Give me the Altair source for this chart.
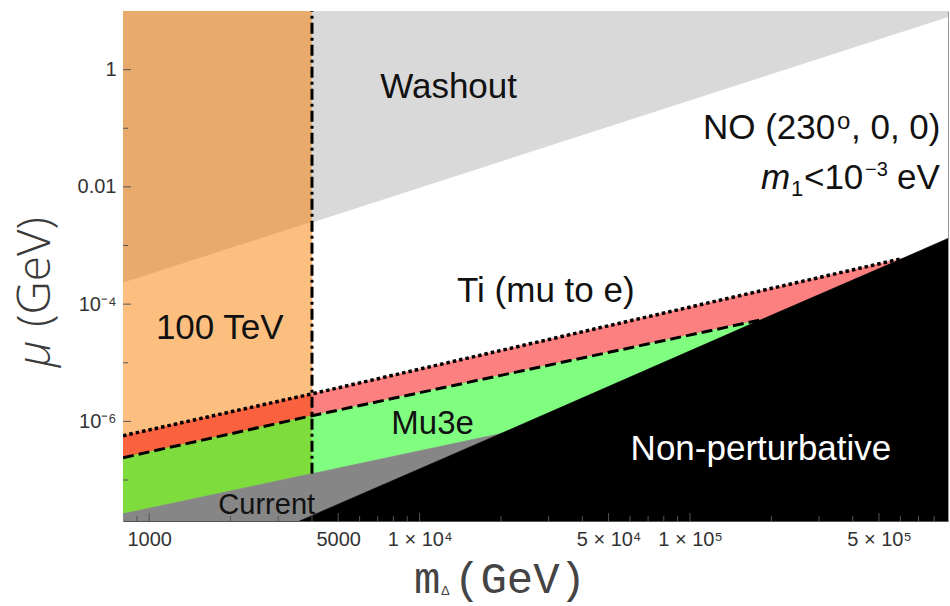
import math
import altair as alt
import pandas as pd

# ---------------- data ----------------
M_RANGE = [800, 9.0e5]          # m_Delta (GeV), log axis
MU_RANGE = [2.0e-8, 10.0]       # mu (GeV), log axis
M_100TEV = 4000                 # 100 TeV reach (dash-dot line)

# boundary curves (knots in log-log space)
washout_m = [800, 4000, 9.0e5]
washout_mu = [2.3e-4, 2.5e-3, 8.0]
ti_m = [800, 4000, 1.83e5, 6.1e5]
ti_mu = [5.7e-7, 2.95e-6, 1.69e-4, 6.0e-4]
mu3e_m = [800, 4000, 2.0e4, 1.83e5]
mu3e_mu = [2.4e-7, 1.25e-6, 6.1e-6, 5.4e-5]
current_m = [800, 3600, 4000, 2.0e4]
current_mu = [2.65e-8, 1.16e-7, 1.28e-7, 6.2e-7]
np_m = [3600, 4000, 2.0e4, 1.83e5, 6.1e5, 9.0e5]
np_mu = [2.0e-8, 2.47e-8, 6.2e-7, 5.4e-5, 6.0e-4, 1.32e-3]

# tick values / labels
y_label_vals = [1, 0.01, 1e-4, 1e-6]
y_label_text = ["1", "0.01", "10⁻⁴", "10⁻⁶"]
y_minor_vals = [0.1, 1e-3, 1e-5, 1e-7]
x_label_vals = [1000, 5000, 1e4, 5e4, 1e5, 5e5]
x_label_text = ["1000", "5000", "1 × 10⁴", "5 × 10⁴", "1 × 10⁵", "5 × 10⁵"]
x_minor_vals = [900, 2000, 3000, 4000, 6000, 7000, 8000, 9000,
                2e4, 3e4, 4e4, 6e4, 7e4, 8e4, 9e4, 2e5, 3e5, 4e5, 6e5, 7e5, 8e5]

region_names = ["wash_left", "wash_right", "orange", "red_left", "pink",
                "green_left", "green_right", "gray", "black"]
region_colors = ["#e9ab6b", "#d9d9d9", "#fdbf80", "#f9613f", "#fd8080",
                 "#7edc3d", "#80fe80", "#868686", "#000000"]

# ---------------- build region bands ----------------
W = dict(zip(washout_m, washout_mu))
T = dict(zip(ti_m, ti_mu))
U = dict(zip(mu3e_m, mu3e_mu))
C = dict(zip(current_m, current_mu))
N = dict(zip(np_m, np_mu))
top, bot = MU_RANGE[1], MU_RANGE[0]
a, b = 800, M_100TEV
bands = {
    "wash_left": [(a, W[a], top), (b, W[b], top)],
    "wash_right": [(b, W[b], top), (9.0e5, W[9.0e5], top)],
    "orange": [(a, T[a], W[a]), (b, T[b], W[b])],
    "red_left": [(a, U[a], T[a]), (b, U[b], T[b])],
    "pink": [(b, U[b], T[b]), (1.83e5, N[1.83e5], T[1.83e5]), (6.1e5, N[6.1e5], T[6.1e5])],
    "green_left": [(a, C[a], U[a]), (b, C[b], U[b])],
    "green_right": [(b, C[b], U[b]), (2.0e4, N[2.0e4], U[2.0e4]), (1.83e5, N[1.83e5], U[1.83e5])],
    "gray": [(a, bot, C[a]), (3600, N[3600], C[3600]), (b, N[b], C[b]), (2.0e4, N[2.0e4], C[2.0e4])],
    "black": [(m, bot, N[m]) for m in np_m],
}
rows = []
for name in region_names:
    for (m, lo, hi) in bands[name]:
        rows.append({"region": name, "m": m, "lo": lo, "hi": hi})
df_regions = pd.DataFrame(rows)

# ---------------- scales / axes ----------------
def label_expr(vals, texts):
    parts = []
    for v, t in zip(vals, texts):
        parts.append("abs(log(datum.value)/LN10 - (%g)) < 0.01 ? '%s'" % (math.log10(v), t))
    return " : ".join(parts) + " : ''"

xs = alt.Scale(type="log", domain=M_RANGE, nice=False)
ys = alt.Scale(type="log", domain=MU_RANGE, nice=False)
xaxis = alt.Axis(values=x_label_vals, labelExpr=label_expr(x_label_vals, x_label_text),
                 ticks=False, tickSize=0, grid=False, title=None, domainColor="#555",
                 labelFont="Liberation Sans", labelFontSize=20, labelColor="#333",
                 labelPadding=8, labelOverlap=False, labelFlush=False, labelBound=False)
yaxis = alt.Axis(values=y_label_vals, labelExpr=label_expr(y_label_vals, y_label_text),
                 ticks=False, tickSize=0, grid=False, title=None, domainColor="#777",
                 labelFont="Liberation Sans", labelFontSize=20, labelColor="#333",
                 labelPadding=7, labelOverlap=False, labelFlush=False, labelBound=False)

X = lambda f="m": alt.X(f + ":Q", scale=xs, axis=xaxis)
Y = lambda f: alt.Y(f + ":Q", scale=ys, axis=yaxis, stack=None)

areas = alt.Chart(df_regions).mark_area(clip=True, strokeWidth=0.7).encode(
    x=X(), y=Y("lo"), y2="hi:Q",
    color=alt.Color("region:N", scale=alt.Scale(domain=region_names, range=region_colors), legend=None),
    stroke=alt.Stroke("region:N", scale=alt.Scale(domain=region_names, range=region_colors), legend=None),
)

ti_line = alt.Chart(pd.DataFrame({"m": ti_m, "mu": ti_mu})).mark_line(
    color="black", strokeWidth=3.5, strokeDash=[3.5, 3], clip=True).encode(x=X(), y=Y("mu"))
mu3e_line = alt.Chart(pd.DataFrame({"m": mu3e_m, "mu": mu3e_mu})).mark_line(
    color="black", strokeWidth=3, strokeDash=[11, 5], clip=True).encode(x=X(), y=Y("mu"))
tev_line = alt.Chart(pd.DataFrame({"m": [M_100TEV], "mu": [C[M_100TEV]], "mu2": [MU_RANGE[1]]})).mark_rule(
    color="black", strokeWidth=3, strokeDash=[11, 4, 3, 4]).encode(x=X(), y=Y("mu"), y2="mu2:Q")

# inward ticks
PH = 510
y_major = alt.Chart(pd.DataFrame({"mu": y_label_vals})).mark_rule(color="#555", strokeWidth=1).encode(
    y=Y("mu"), x=alt.value(0), x2=alt.value(8))
y_minor = alt.Chart(pd.DataFrame({"mu": y_minor_vals})).mark_rule(color="#555", strokeWidth=1).encode(
    y=Y("mu"), x=alt.value(0), x2=alt.value(5))
x_major = alt.Chart(pd.DataFrame({"m": x_label_vals})).mark_rule(color="#555", strokeWidth=1).encode(
    x=X(), y=alt.value(PH), y2=alt.value(PH - 8))
x_minor = alt.Chart(pd.DataFrame({"m": x_minor_vals})).mark_rule(color="#555", strokeWidth=1).encode(
    x=X(), y=alt.value(PH), y2=alt.value(PH - 5))

# annotations in data coordinates
def ann(text, m, mu, size=35, color="#111", align="center", dx=0, dy=0, italic=False):
    return alt.Chart(pd.DataFrame({"t": [text], "m": [m], "mu": [mu]})).mark_text(
        font="Liberation Sans", fontSize=size, color=color, align=align, baseline="alphabetic",
        dx=dx, dy=dy, fontStyle="italic" if italic else "normal").encode(
        x=X(), y=Y("mu"), text="t:N")

anns = [
    ann("Washout", 1.28e4, 0.333),
    ann("100 TeV", 1824, 2.57e-5),
    ann("Ti (mu to e)", 2.93e4, 1.10e-4),
    ann("Mu3e", 1.117e4, 6.14e-7, size=33),
    ann("Non-perturbative", 1.83e5, 2.21e-7, color="white"),
    ann("Current", 2720, 2.65e-8, size=29),
    # NO (230°, 0, 0)
    ann("NO (230", 1.117e5, 0.0665, align="left"),
    ann("o", 1.117e5, 0.0665, size=24, align="left", dx=134, dy=-10),
    ann(", 0, 0)", 1.117e5, 0.0665, align="left", dx=148),
    # m1 < 10^-3 eV
    ann("m", 1.83e5, 9.31e-3, align="left", italic=True),
    ann("1", 1.83e5, 9.31e-3, size=22, align="left", dx=30, dy=7),
    ann("<10", 1.83e5, 9.31e-3, align="left", dx=43),
    ann("−3", 1.83e5, 9.31e-3, size=20, align="left", dx=104, dy=-13),
    ann("eV", 1.83e5, 9.31e-3, align="left", dx=136),
]

# axis titles (rich text pieces, pixel positions relative to plot origin)
def title_piece(text, x, y, font, size, angle=0, italic=False, color="#3a3a3a", weight="normal"):
    return alt.Chart(pd.DataFrame({"t": [text]})).mark_text(
        font=font, fontSize=size, color=color, align="left", baseline="alphabetic",
        angle=angle, fontStyle="italic" if italic else "normal", fontWeight=weight).encode(
        x=alt.value(x), y=alt.value(y), text="t:N")

titles = [
    title_piece("μ", -73, 356, "Open Sans", 46, angle=270, italic=True, weight=300),
    title_piece("(GeV)", -73, 316, "Open Sans", 46, angle=270, weight=300),
    title_piece("m", 291, 582, "Liberation Mono", 44, color="#444"),
    title_piece("Δ", 318, 584, "Liberation Sans", 13, color="#444"),
    title_piece("(GeV)", 331, 582, "Liberation Mono", 44, color="#444"),
]

chart = alt.layer(
    areas, ti_line, mu3e_line, tev_line, y_major, y_minor, x_major, x_minor, *anns, *titles
).properties(
    width=825, height=PH,
    padding={"left": 123, "top": 11, "right": 2, "bottom": 85},
    autosize=alt.AutoSizeParams(type="none"),
).configure_view(stroke="#999", strokeWidth=1)

chart.save("out.html", embed_options={"renderer": "svg", "actions": False})
